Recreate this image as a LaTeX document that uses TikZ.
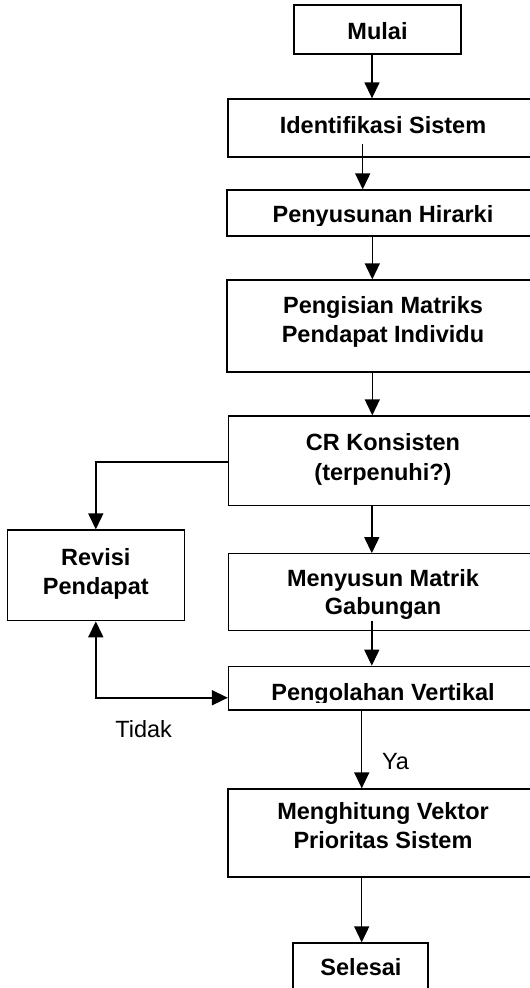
\documentclass[tikz,border=0pt]{standalone}
\usepackage{fontspec}
\setmainfont{Liberation Sans}
\usetikzlibrary{arrows.meta}
\begin{document}
\begin{tikzpicture}[x=1pt,y=-1pt,
  box/.style={draw, line width=1.3pt, inner sep=0pt},
  txt/.style={font=\fontsize{23.5}{29}\selectfont\bfseries, align=center, inner sep=0pt, anchor=base},
  lbl/.style={font=\fontsize{23.5}{29}\selectfont, inner sep=0pt, anchor=base},
  arr/.style={line width=1.4pt, -{Triangle[width=15pt,length=16pt]}},
  loop/.style={line width=1.7pt, {Triangle[width=15pt,length=16pt]}-{Triangle[width=15pt,length=16pt]}},
  conn/.style={line width=1.7pt, -{Triangle[width=15pt,length=16pt]}}]
\clip (0,0) rectangle (530,988);
\fill[white] (0,0) rectangle (530,988);
% boxes
\node[box, minimum width=167pt, minimum height=49pt] (mulai) at (377.5,29.5) {};
\node[box, minimum width=310pt, minimum height=58pt] (ident) at (383,128) {};
\node[box, minimum width=312pt, minimum height=46pt] (susun) at (383,213) {};
\node[box, minimum width=312pt, minimum height=92pt] (isi) at (383,326) {};
\node[box, minimum width=309.5pt, minimum height=89.8pt] (cr) at (383.25,460.9) {};
\node[box, minimum width=176.8pt, minimum height=90.7pt] (revisi) at (95.8,575.35) {};
\node[box, minimum width=309.5pt, minimum height=77pt] (gab) at (383.25,592.3) {};
\node[box, minimum width=309.5pt, minimum height=43.7pt] (olah) at (383.25,688.15) {};
\node[box, minimum width=310pt, minimum height=88pt] (hitung) at (383,833) {};
\node[box, minimum width=135pt, minimum height=67pt] (selesai) at (360.5,976.5) {};
% texts
\node[txt] (tmulai) at (377.5,39) {Mulai};
\node[txt] (tident) at (383,133) {Identifikasi Sistem};
\begin{scope}
\clip (200,190) rectangle (530,225);
\node[txt] (tsusun) at (383,222.7) {Penyusunan Hirarki};
\end{scope}
\node[txt] (tisi1) at (383,313) {Pengisian Matriks};
\node[txt] (tisi2) at (383,342) {Pendapat Individu};
\node[txt] (tcr1) at (383,450.7) {CR Konsisten};
\node[txt] (tcr2) at (383,480.5) {(terpenuhi?)};
\node[txt] (trev1) at (95.8,565.6) {Revisi};
\node[txt] (trev2) at (95.8,594.4) {Pendapat};
\node[txt] (tgab1) at (383,586.5) {Menyusun Matrik};
\node[txt] (tgab2) at (383,614) {Gabungan};
\begin{scope}
\clip (200,666) rectangle (530,702);
\node[txt] (tolah) at (383,700) {Pengolahan Vertikal};
\end{scope}
\node[txt] (thit1) at (383,819) {Menghitung Vektor};
\node[txt] (thit2) at (383,848) {Prioritas Sistem};
\node[txt] (tsel) at (361,975) {Selesai};
\node[lbl] (tidak) at (143.7,737) {Tidak};
\node[lbl] (ya) at (395.5,769) {Ya};
% connectors
\draw[arr] ([xshift=-5.5pt]mulai.south) -- ([xshift=-5.5pt]mulai.south |- ident.north);
\draw[arr] ([xshift=-20.3pt,yshift=14pt]ident.south) -- ([xshift=-20.3pt]ident.south |- susun.north);
\draw[arr] ([xshift=-10.7pt]susun.south) -- ([xshift=-10.7pt]susun.south |- isi.north);
\draw[arr] ([xshift=-10.7pt]isi.south) -- ([xshift=-10.7pt]isi.south |- cr.north);
\draw[arr] ([xshift=-11.45pt]cr.south) -- ([xshift=-11.45pt]cr.south |- gab.north);
\draw[arr] ([xshift=-11.45pt,yshift=10.8pt]gab.south) -- ([xshift=-11.45pt]gab.south |- olah.north);
\draw[arr] ([xshift=-21.5pt]olah.south) -- ([xshift=-21.5pt]olah.south |- hitung.north);
\draw[arr] ([xshift=-21.3pt]hitung.south) -- ([xshift=-21.3pt]hitung.south |- selesai.north);
\draw[conn] ([yshift=-1pt]cr.west) -| (revisi.north);
\draw[loop] (revisi.south) |- ([yshift=-9.6pt]olah.west);
\end{tikzpicture}
\end{document}
